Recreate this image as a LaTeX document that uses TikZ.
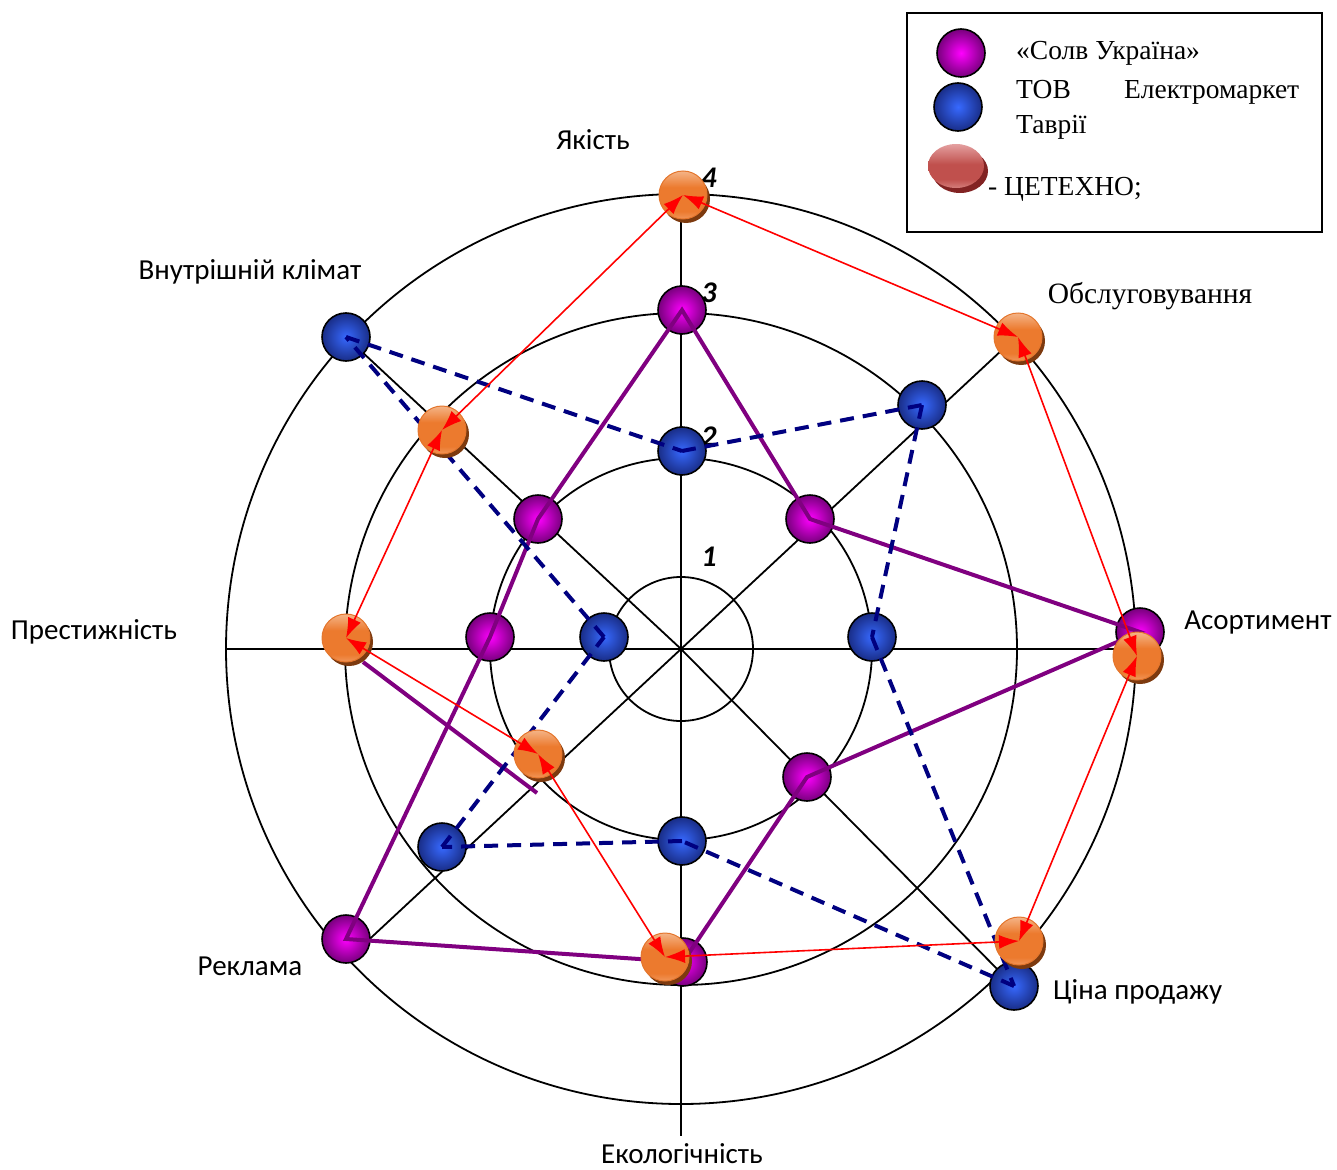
\documentclass[tikz,border=0pt]{standalone}
\usepackage{fontspec}
\setmainfont{Liberation Serif}
\newfontfamily\calfont{Carlito}
\usetikzlibrary{arrows.meta}

\definecolor{solvline}{RGB}{128,0,128}
\definecolor{solvin}{RGB}{255,0,255}
\definecolor{solvout}{RGB}{120,0,125}
\definecolor{tavrline}{RGB}{0,0,128}
\definecolor{tavrin}{RGB}{55,105,255}
\definecolor{tavrout}{RGB}{25,45,135}
\definecolor{techtop}{RGB}{244,180,135}
\definecolor{techmid}{RGB}{236,122,46}
\definecolor{techbot}{RGB}{241,150,90}
\definecolor{techrim}{RGB}{228,118,45}
\definecolor{techshade}{RGB}{125,58,15}
\definecolor{legtop}{RGB}{228,160,160}
\definecolor{legmid}{RGB}{192,80,77}
\definecolor{legbot}{RGB}{212,125,122}
\definecolor{legshade}{RGB}{130,35,35}

\pgfdeclareverticalshading{techball}{100bp}{color(0bp)=(techbot); color(25bp)=(techbot);
  color(33bp)=(techmid); color(58bp)=(techmid); color(75bp)=(techtop); color(100bp)=(techtop)}
\pgfdeclareverticalshading{legball}{100bp}{color(0bp)=(legbot); color(25bp)=(legbot);
  color(35bp)=(legmid); color(52bp)=(legmid); color(75bp)=(legtop); color(100bp)=(legtop)}

\tikzstyle{ring} = [draw,line width=1.8pt,black]
\tikzstyle{axis} = [draw,line width=1.8pt,black]
\tikzstyle{axislabel} = [font=\calfont\fontsize{29}{34}\selectfont,inner sep=0pt]
\tikzstyle{serifla} = [font=\fontsize{29.5}{34}\selectfont,inner sep=0pt]
\tikzstyle{scalelabel} = [font=\calfont\bfseries\itshape\fontsize{30}{34}\selectfont,inner sep=0pt]
\tikzstyle{legtext} = [font=\fontsize{27.5}{35}\selectfont,inner sep=0pt]
\tikzstyle{ballsolv} = [circle,minimum size=48pt,inner sep=0pt,draw,line width=1.6pt,inner color=solvin,outer color=solvout]
\tikzstyle{balltavr} = [circle,minimum size=48pt,inner sep=0pt,draw,line width=1.6pt,inner color=tavrin,outer color=tavrout]
\tikzstyle{balltech} = [circle,minimum size=48pt,inner sep=0pt,draw=techrim,line width=1pt,shading=techball]
\tikzstyle{techshadow} = [fill=techshade]
\tikzstyle{solv edge} = [draw,line width=4pt,solvline]
\tikzstyle{tavr edge} = [draw,line width=4pt,tavrline,dash pattern=on 14pt off 9pt]
\tikzstyle{tech edge} = [draw,line width=1.6pt,red,{Latex[length=20pt,width=14pt]}-{Latex[length=20pt,width=14pt]}]

\begin{document}
\begin{tikzpicture}[x=1pt,y=-1pt]
      \useasboundingbox (0,0) rectangle (1337,1169);
      %rings and axes
      \coordinate (ctr) at (681,649);
      \foreach \r in {72,191,336,455}
        \draw[ring] (ctr) circle (\r);
      \foreach \axname/\x/\y in {up/681/200, dn/681/1136, rt/1135/649, lt/226/649,
        ur/1017/336, dr/1008/980, dl/360/948, ul/346/337}
      {
        \coordinate (\axname) at (\x,\y);
        \draw[axis] (ctr) -- (\axname);
      };
      %labels
      \node[axislabel,anchor=base] (lq) at (593,150) {Якість};
      \node[serifla,anchor=base] (ls) at (1150,303) {Обслуговування};
      \node[axislabel,anchor=base] (la) at (1258,629) {Асортимент};
      \node[axislabel,anchor=base west] (lc) at (1053,999) {Ціна продажу};
      \node[axislabel,anchor=base] (le) at (682,1163) {Екологічність};
      \node[axislabel,anchor=base] (lr) at (250,975) {Реклама};
      \node[axislabel,anchor=base] (lp) at (94,639) {Престижність};
      \node[axislabel,anchor=base] (lk) at (250,279) {Внутрішній клімат};
      \foreach \nodename/\y/\value in {n1/566/1, n2/446/2, n3/302/3, n4/187/4}
        \node[scalelabel,anchor=base] (\nodename) at (709,\y) {\value};
      %Солв Україна
      \foreach \nodename/\x/\y in {s1/682/310, s2/810/519, s3/1140/632, s4/807/777,
        s5/683/962, s6/346/939, s7/490/637, s8/538/519}
      {
        \node[ballsolv] (\nodename) at (\x,\y) {};
      };
      \draw[solv edge] (s1.center) -- (s2.center) -- (s3.center) -- (s4.center) -- (s5.center)
        -- (s6.center) -- (s7.center) -- (s8.center) -- cycle;
      \coordinate (sa) at (363,662);
      \coordinate (sb) at (537,793);
      \draw[solv edge] (sa) -- (sb);
      %ТОВ Електромаркет Таврії
      \foreach \nodename/\x/\y in {t1/682/451, t2/922/405, t3/872/637, t4/1014/986,
        t5/682/841, t6/442/847, t7/604/637, t8/346/337}
      {
        \node[balltavr] (\nodename) at (\x,\y) {};
      };
      \path
      \foreach \startnode/\endnode in {t1/t2, t2/t3, t3/t4, t4/t5, t5/t6, t6/t7, t7/t8, t8/t1}
      {
        (\startnode.center) edge[tavr edge] (\endnode.center)
      };
      %ЦЕТЕХНО
      \foreach \nodename/\x/\y in {c1/683/195, c2/1018/337, c3/1137/656, c4/1019/941,
        c5/665/957, c6/538/754, c7/346/638, c8/442/430}
      {
        \fill[techshadow] (\x+3,\y+4) circle (24);
        \node[balltech] (\nodename) at (\x,\y) {};
      };
      \path
      \foreach \startnode/\endnode in {c1/c2, c2/c3, c3/c4, c4/c5, c5/c6, c6/c7, c7/c8, c8/c1}
      {
        (\startnode.center) edge[tech edge] (\endnode.center)
      };
      %legend
      \draw[line width=1.6pt] (907,13) rectangle (1322,232);
      \node[ballsolv] (lg1) at (961,53) {};
      \node[balltavr] (lg2) at (958,107) {};
      \fill[legshade] (960,171) ellipse (28 and 22);
      \path[shading=legball] (956,166) ellipse (28 and 22);
      \node[legtext,anchor=base west] (lt1) at (1016,60) {«Солв Україна»};
      \node[legtext,anchor=base west,text width=283pt,align=left] (lt2) at (1016,99)
        {ТОВ\hfill Електромаркет\\Таврії};
      \node[legtext,anchor=base west] (lt3) at (988,196) {- ЦЕТЕХНО;};
    \end{tikzpicture}
\end{document}
